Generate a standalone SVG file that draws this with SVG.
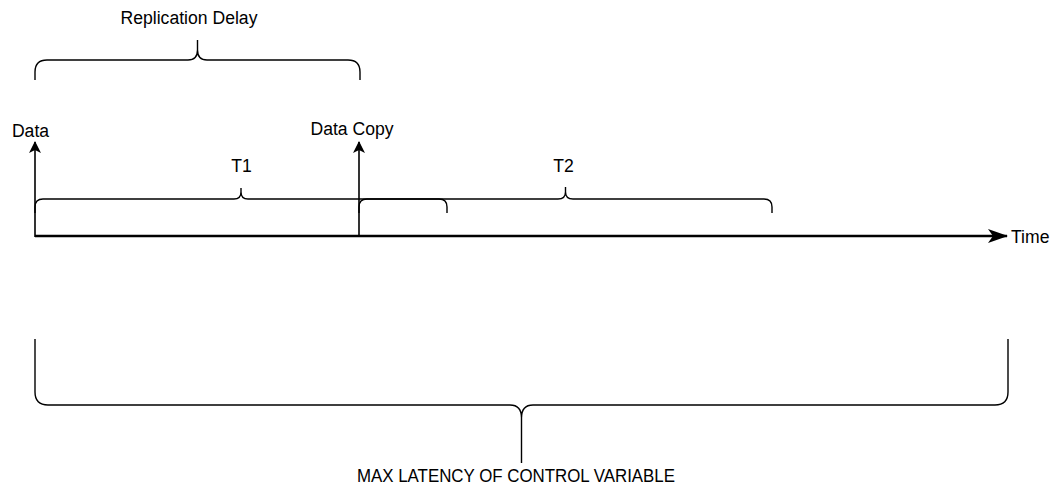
<svg xmlns="http://www.w3.org/2000/svg" width="1053" height="484" viewBox="0 0 1053 484">
  <defs>
    <style>
      .lbl { font-family: "Liberation Sans", Arial, sans-serif; font-size: 17.6px; fill: #000; }
      .brace { fill: none; stroke: #000; stroke-width: 1.4; }
      .arrow { fill: none; stroke: #000; stroke-width: 1.6; }
      .axis { fill: none; stroke: #000; stroke-width: 2.4; }
    </style>
    <marker id="ah" viewBox="0 0 12 12" refX="11" refY="6" markerWidth="12" markerHeight="12" markerUnits="userSpaceOnUse" orient="auto">
      <path d="M0,0 L12,6 L0,12 L3,6 Z" fill="#000"/>
    </marker>
    <marker id="ahBig" viewBox="0 0 20 14" refX="19" refY="7" markerWidth="20" markerHeight="14" markerUnits="userSpaceOnUse" orient="auto">
      <path d="M0,0 L20,7 L0,14 L5,7 Z" fill="#000"/>
    </marker>
  </defs>
  <rect width="1053" height="484" fill="#fff"/>

  <g id="connectors">
    <line id="time-axis" class="axis" x1="35" y1="236" x2="1007" y2="236" marker-end="url(#ahBig)"/>
    <line id="data-arrow" class="arrow" x1="35" y1="237" x2="35" y2="142" marker-end="url(#ah)"/>
    <line id="copy-arrow" class="arrow" x1="359" y1="237" x2="359" y2="142" marker-end="url(#ah)"/>
  </g>

  <g id="replication-delay">
    <path class="brace" d="M35,80 L35,72 Q35,60 47,60 L188,60 Q197.5,60 197.5,50 L197.5,40 M197.5,50 Q197.5,60 207,60 L348,60 Q360,60 360,72 L360,80"/>
    <text class="lbl" x="189" y="24" text-anchor="middle">Replication Delay</text>
  </g>

  <g id="t1">
    <path class="brace" d="M35,213 L35,207 Q35,199 43,199 L234,199 Q241,199 241,192 L241,188 M241,192 Q241,199 248,199 L439,199 Q447,199 447,207 L447,213"/>
    <text class="lbl" x="241.5" y="172" text-anchor="middle">T1</text>
  </g>

  <g id="t2">
    <path class="brace" d="M359,213 L359,207 Q359,199 367,199 L558,199 Q565.5,199 565.5,192 L565.5,187 M565.5,192 Q565.5,199 573,199 L764,199 Q772,199 772,207 L772,213"/>
    <text class="lbl" x="563.5" y="172" text-anchor="middle">T2</text>
  </g>

  <g id="data">
    <text class="lbl" x="30.5" y="137" text-anchor="middle">Data</text>
  </g>

  <g id="data-copy">
    <text class="lbl" x="352" y="135" text-anchor="middle">Data Copy</text>
  </g>

  <g id="time">
    <text class="lbl" x="1011" y="243">Time</text>
  </g>

  <g id="max-latency">
    <path class="brace" d="M35,339 L35,392 Q35,405 48,405 L510,405 Q521.5,405 521.5,418 L521.5,463 M521.5,418 Q521.5,405 533,405 L995,405 Q1008,405 1008,392 L1008,339"/>
    <text class="lbl" x="516" y="482" text-anchor="middle" textLength="318" lengthAdjust="spacingAndGlyphs">MAX LATENCY OF CONTROL VARIABLE</text>
  </g>
</svg>
